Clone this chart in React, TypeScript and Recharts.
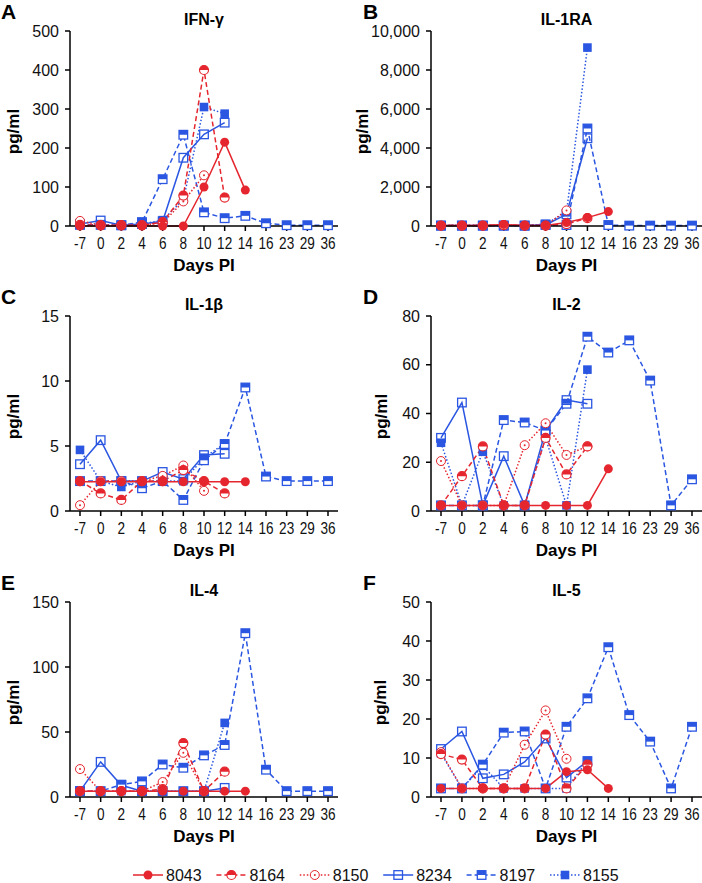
import React from "react";
import { LineChart, Line, XAxis, YAxis } from "recharts";

const DAYS = ["-7", "0", "2", "4", "6", "8", "10", "12", "14", "16", "23", "29", "36"];
const ANIMALS = ["8043", "8164", "8150", "8234", "8197", "8155"];
// blue first so the red animals sit on top, like the original
const DRAW_ORDER = ["8155", "8197", "8234", "8150", "8164", "8043"];

const _ = null;

// IFN-γ
const ifng: Record<string, (number | null)[]> = {
  "8043": [0, 0, 0, 0, 0, 0, 100, 215, 92, _, _, _, _],
  "8164": [3, 2, 2, 2, 10, 78, 400, 73, _, _, _, _, _],
  "8150": [13, 2, 2, 2, 8, 63, 130, _, _, _, _, _, _],
  "8234": [5, 14, 2, 5, 12, 175, 235, 265, _, _, _, _, _],
  "8197": [3, 3, 2, 10, 120, 234, 35, 20, 26, 7, 2, 2, 2],
  "8155": [2, 2, 2, 5, 15, 68, 305, 288, _, _, _, _, _],
};
const ifngTicks = [0, 100, 200, 300, 400, 500];

// IL-1RA
const il1ra: Record<string, (number | null)[]> = {
  "8043": [20, 20, 20, 80, 20, 20, 180, 430, 740, _, _, _, _],
  "8164": [20, 20, 20, 50, 20, 20, 100, 400, _, _, _, _, _],
  "8150": [20, 20, 20, 40, 20, 20, 800, _, _, _, _, _, _],
  "8234": [20, 20, 20, 20, 20, 50, 600, 4500, _, _, _, _, _],
  "8197": [20, 20, 20, 20, 20, 80, 50, 5000, 50, 20, 20, 20, 20],
  "8155": [20, 20, 20, 20, 20, 100, 700, 9150, _, _, _, _, _],
};
const il1raTicks = [0, 2000, 4000, 6000, 8000, 10000];

// IL-1β
const il1b: Record<string, (number | null)[]> = {
  "8043": [2.25, 2.25, 2.25, 2.25, 2.25, 2.25, 2.25, 2.25, 2.25, _, _, _, _],
  "8164": [2.3, 1.35, 0.85, 2.3, 2.3, 3.15, 2.3, 1.35, _, _, _, _, _],
  "8150": [0.45, 2.3, 2.3, 2.3, 2.7, 3.5, 1.55, _, _, _, _, _, _],
  "8234": [3.6, 5.45, 2.3, 2.3, 3.0, 2.45, 4.3, 4.4, _, _, _, _, _],
  "8197": [2.3, 2.3, 2.3, 1.75, 2.3, 0.85, 3.9, 5.15, 9.5, 2.65, 2.3, 2.3, 2.3],
  "8155": [4.7, 2.3, 1.85, 2.3, 2.3, 2.3, 4.1, 5.2, _, _, _, _, _],
};
const il1bTicks = [0, 5, 10, 15];

// IL-2
const il2: Record<string, (number | null)[]> = {
  "8043": [2.3, 2.3, 2.3, 2.3, 2.3, 2.3, 2.3, 2.3, 17.3, _, _, _, _],
  "8164": [2.3, 14.3, 26.5, 2.3, 2.3, 30, 15, 26.5, _, _, _, _, _],
  "8150": [20.5, 2.3, 2.3, 2.3, 27, 36, 23, 26.5, _, _, _, _, _],
  "8234": [30, 44.5, 2.3, 22.5, 2.3, 33, 45.5, 44, _, _, _, _, _],
  "8197": [2.3, 2.3, 2.3, 37.3, 36.3, 33, 44, 71.5, 65, 70, 53.5, 2.3, 13],
  "8155": [28, 2.3, 24.3, 2.3, 2.3, 30, 2.3, 58, _, _, _, _, _],
};
const il2Ticks = [0, 20, 40, 60, 80];

// IL-4
const il4: Record<string, (number | null)[]> = {
  "8043": [4.5, 4.5, 4.5, 4.5, 4.5, 4.5, 4.5, 4.5, 4.5, _, _, _, _],
  "8164": [4.5, 4.5, 4.5, 4.5, 6, 41.5, 4.5, 19.5, _, _, _, _, _],
  "8150": [21.5, 4.5, 4.5, 4.5, 11.5, 34, 4.5, _, _, _, _, _, _],
  "8234": [4.5, 27, 9, 4.5, 4.5, 4.5, 4.5, 7, _, _, _, _, _],
  "8197": [4.5, 4.5, 9.5, 12, 25, 22.5, 32, 40, 126, 21, 4.5, 4.5, 4.5],
  "8155": [4.5, 4.5, 4.5, 4.5, 4.5, 4.5, 4.5, 57, _, _, _, _, _],
};
const il4Ticks = [0, 50, 100, 150];

// IL-5
const il5: Record<string, (number | null)[]> = {
  "8043": [2.2, 2.2, 2.2, 2.2, 2.2, 2.2, 6.5, 7, 2.2, _, _, _, _],
  "8164": [11, 9.6, 2.2, 2.2, 2.2, 16, 2.2, 8.3, _, _, _, _, _],
  "8150": [11.5, 2.2, 2.2, 2.2, 13.4, 22.2, 9.8, _, _, _, _, _, _],
  "8234": [12.3, 16.8, 4.8, 5.8, 9, 15, 5, 9.2, _, _, _, _, _],
  "8197": [2.2, 2.2, 8.3, 16.5, 16.8, 2.2, 18, 25.3, 38.4, 21, 14.2, 2.2, 18],
  "8155": [11.2, 2.2, 8, 2.2, 2.2, 2.2, 2.2, 9.3, _, _, _, _, _],
};
const il5Ticks = [0, 10, 20, 30, 40, 50];

const RED = "#e5262e";
const BLUE = "#2a56e2";
const FONT = "'Liberation Sans', Arial, sans-serif";

const STYLE: Record<string, { color: string; dash?: string; marker: string }> = {
  "8043": { color: RED, marker: "circle" },
  "8164": { color: RED, dash: "5 3", marker: "halfCircle" },
  "8150": { color: RED, dash: "1.5 2", marker: "dotCircle" },
  "8234": { color: BLUE, marker: "openSquare" },
  "8197": { color: BLUE, dash: "5 3", marker: "halfSquare" },
  "8155": { color: BLUE, dash: "1.5 2", marker: "square" },
};

const PANELS = [
  { letter: "A", title: "IFN-γ", values: ifng, ticks: ifngTicks },
  { letter: "B", title: "IL-1RA", values: il1ra, ticks: il1raTicks },
  { letter: "C", title: "IL-1β", values: il1b, ticks: il1bTicks },
  { letter: "D", title: "IL-2", values: il2, ticks: il2Ticks },
  { letter: "E", title: "IL-4", values: il4, ticks: il4Ticks },
  { letter: "F", title: "IL-5", values: il5, ticks: il5Ticks },
];

function marker(kind: string, color: string, cx: number, cy: number, key?: string) {
  const r = 4.5;
  const s = 4.3;
  switch (kind) {
    case "circle":
      return <circle key={key} cx={cx} cy={cy} r={r} fill={color} />;
    case "halfCircle":
      return (
        <g key={key}>
          <circle cx={cx} cy={cy} r={r} fill="#fff" stroke={color} strokeWidth={1.2} />
          <path d={`M${cx - r},${cy} A${r},${r} 0 0 1 ${cx + r},${cy} Z`} fill={color} />
        </g>
      );
    case "dotCircle":
      return (
        <g key={key}>
          <circle cx={cx} cy={cy} r={r} fill="#fff" stroke={color} strokeWidth={1} />
          <circle cx={cx} cy={cy} r={1} fill={color} />
        </g>
      );
    case "openSquare":
      return <rect key={key} x={cx - s} y={cy - s} width={2 * s} height={2 * s} fill="none" stroke={color} strokeWidth={1.3} />;
    case "halfSquare":
      return (
        <g key={key}>
          <rect x={cx - s} y={cy - s} width={2 * s} height={2 * s} fill="#fff" stroke={color} strokeWidth={1.3} />
          <rect x={cx - s} y={cy - s} width={2 * s} height={s} fill={color} />
        </g>
      );
    default:
      return <rect key={key} x={cx - s} y={cy - s} width={2 * s} height={2 * s} fill={color} />;
  }
}

// day labels are horizontally squeezed in the original
function DayTick(props: any) {
  const { x, y, payload } = props;
  return (
    <g transform={`translate(${x},${y})`}>
      <text transform="scale(0.8,1)" textAnchor="middle" dy="0.75em" fontSize={17} fontFamily={FONT} fill="#111">
        {payload.value}
      </text>
    </g>
  );
}

const ROW_TOP = [0, 285, 571];
const COL_LEFT = [0, 351];
const CHART_W = 351;
const CHART_H = 280;
const PLOT_TOP = 31;
const X_AXIS_H = 54;

function Panel({ idx }: { idx: number }) {
  const p = PANELS[idx];
  const col = idx % 2;
  const row = Math.floor(idx / 2);
  const data = DAYS.map((d, i) => {
    const o: Record<string, any> = { day: d };
    ANIMALS.forEach(a => (o["s" + a] = p.values[a][i]));
    return o;
  });
  const yw = col === 0 ? 70 : 80;
  const max = p.ticks[p.ticks.length - 1];
  return (
    <div style={{ position: "absolute", left: COL_LEFT[col], top: ROW_TOP[row] }}>
      <LineChart width={CHART_W} height={CHART_H} data={data}
        margin={{ top: PLOT_TOP, right: col === 0 ? 13 : 0, bottom: 0, left: 0 }}>
        <XAxis dataKey="day" height={X_AXIS_H} interval={0} padding={{ left: 10, right: 10 }}
          axisLine={{ stroke: "#000", strokeWidth: 1.5 }} tickLine={{ stroke: "#000", strokeWidth: 1.5 }}
          tickSize={5} tickMargin={5} tick={<DayTick />} />
        <YAxis width={yw} domain={[0, max]} ticks={p.ticks} interval={0}
          axisLine={{ stroke: "#000", strokeWidth: 1.5 }} tickLine={{ stroke: "#000", strokeWidth: 1.5 }}
          tickSize={5} tickMargin={6}
          tickFormatter={(v: number) => v.toLocaleString("en-US")}
          tick={{ fill: "#111", fontSize: 16, fontFamily: FONT }} />
        {DRAW_ORDER.map(a => {
          const st = STYLE[a];
          return (
            <Line key={a} dataKey={"s" + a} stroke={st.color} strokeWidth={1.5}
              strokeDasharray={st.dash} isAnimationActive={false} activeDot={false}
              dot={(props: any) => {
                const k = `${a}-${props.index}`;
                if (props.cx == null || props.cy == null || props.value == null) return <g key={k} />;
                return marker(st.marker, st.color, props.cx, props.cy, k);
              }} />
          );
        })}
      </LineChart>
    </div>
  );
}

function Overlay() {
  const plotL = [70, 431];
  const plotR = [338, 702];
  const ylabX = [13, 362, 13, 381, 13, 380];
  return (
    <svg width={702} height={883} style={{ position: "absolute", left: 0, top: 0, pointerEvents: "none" }}>
      {PANELS.map((p, i) => {
        const col = i % 2;
        const row = Math.floor(i / 2);
        const top = ROW_TOP[row];
        const cx = (plotL[col] + plotR[col]) / 2;
        const cy = top + PLOT_TOP + (CHART_H - X_AXIS_H - PLOT_TOP) / 2;
        return (
          <g key={p.letter} fontFamily={FONT} fill="#000">
            <text x={col === 0 ? 1 : 363} y={top + 19} fontSize={21} fontWeight="bold">{p.letter}</text>
            <text x={cx} y={top + 25} fontSize={16} fontWeight="bold" textAnchor="middle">{p.title}</text>
            <text x={cx} y={top + 271} fontSize={17} fontWeight="bold" textAnchor="middle">Days PI</text>
            <text x={ylabX[i]} y={cy + 3} fontSize={17} fontWeight="bold" textAnchor="middle"
              dominantBaseline="central" transform={`rotate(-90 ${ylabX[i]} ${cy + 3})`}>pg/ml</text>
          </g>
        );
      })}
      {ANIMALS.map((a, i) => {
        const st = STYLE[a];
        const x0 = 133 + i * 83.4;
        const y = 875;
        return (
          <g key={a}>
            <line x1={x0} y1={y} x2={x0 + 30} y2={y} stroke={st.color} strokeWidth={1.5} strokeDasharray={st.dash} />
            {marker(st.marker, st.color, x0 + 15, y)}
            <text x={x0 + 33} y={y + 6} fontSize={16} fontFamily={FONT} fill="#111">{a}</text>
          </g>
        );
      })}
    </svg>
  );
}

export default function App() {
  return (
    <div style={{ position: "absolute", left: 0, top: 0, width: 702, height: 883, background: "#fff", overflow: "hidden" }}>
      {PANELS.map((_p, i) => <Panel key={i} idx={i} />)}
      <Overlay />
    </div>
  );
}
